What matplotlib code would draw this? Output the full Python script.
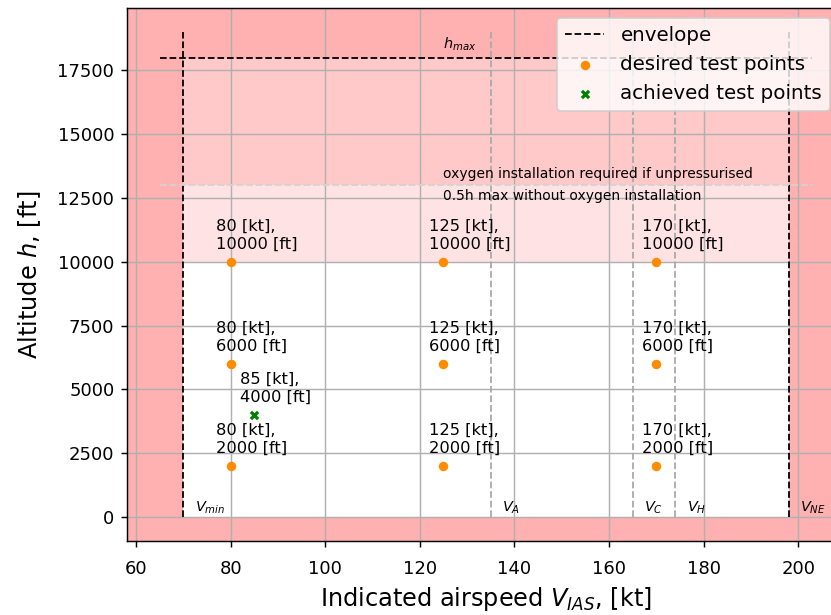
import matplotlib
matplotlib.use("Agg")
import matplotlib.pyplot as plt

# envelope speeds [kt] and altitudes [ft]
V_min = 70
V_A = 135
V_C = 165
V_H = 174
V_NE = 198
h_max = 18000
h_oxy = 13000
h_half = 10000

speed_names = ['$V_{min}$', '$V_A$', '$V_C$', '$V_H$', '$V_{NE}$']
speed_values = [V_min, V_A, V_C, V_H, V_NE]

desired_v = [80, 80, 80, 125, 125, 125, 170, 170, 170]
desired_h = [2000, 6000, 10000, 2000, 6000, 10000, 2000, 6000, 10000]
achieved_v = [85]
achieved_h = [4000]

fig = plt.figure(figsize=(831 / 130, 615 / 130), dpi=130)
ax = fig.add_axes([127 / 831, 74 / 615, 718 / 831, 533 / 615])
ax.set_facecolor('#ffb0b0')

# shaded zones inside the envelope
ax.fill_between([V_min, V_NE], 0, h_half, color='white', lw=0)
ax.fill_between([V_min, V_NE], h_half, h_oxy, color='#ffe3e4', lw=0)
ax.fill_between([V_min, V_NE], h_oxy, h_max, color='#ffc9c9', lw=0)

# envelope
ax.plot([V_min, V_min], [0, h_max + 1000], 'k--', lw=1, label='envelope')
ax.plot([V_NE, V_NE], [0, h_max + 1000], 'k--', lw=1)
ax.plot([V_min - 5, V_NE + 5], [h_max, h_max], 'k--', lw=1)
ax.text(125, h_max + 180, '$h_{max}$', fontsize=8, va='bottom')

# other speeds
for v in [V_A, V_C, V_H]:
    ax.plot([v, v], [0, h_max + 1000], '--', color='darkgrey', lw=1)
for name, v in zip(speed_names, speed_values):
    ax.text(v + 2.4, 20, name, fontsize=8, va='bottom')

# oxygen line
ax.plot([V_min - 5, V_NE + 5], [h_oxy, h_oxy], '--', color='lightgrey', lw=1)
ax.text(125, h_oxy + 150, 'oxygen installation required if unpressurised', fontsize=7.7, va='bottom')
ax.text(125, h_oxy - 150, '0.5h max without oxygen installation', fontsize=7.7, va='top')

ax.scatter(desired_v, desired_h, s=18, color='darkorange', label='desired test points', zorder=3)
ax.scatter(achieved_v, achieved_h, s=16, marker='x', color='green', linewidths=1.8, label='achieved test points', zorder=3)

for v, h in zip(desired_v + achieved_v, desired_h + achieved_h):
    ax.text(v - 3, h + 400, '%d [kt],\n%d [ft]' % (v, h), fontsize=9, va='bottom')

ax.tick_params(axis='x', pad=7)
ax.set_xlabel('Indicated airspeed $V_{IAS}$, [kt]', fontsize=13.3)
ax.set_ylabel('Altitude $h$, [ft]', fontsize=13.3, labelpad=8)
ax.grid(True)
ax.legend(loc='upper right', bbox_to_anchor=(1 - 5 / 718, 1), fontsize=11)

fig.savefig('out.png', dpi=130)
